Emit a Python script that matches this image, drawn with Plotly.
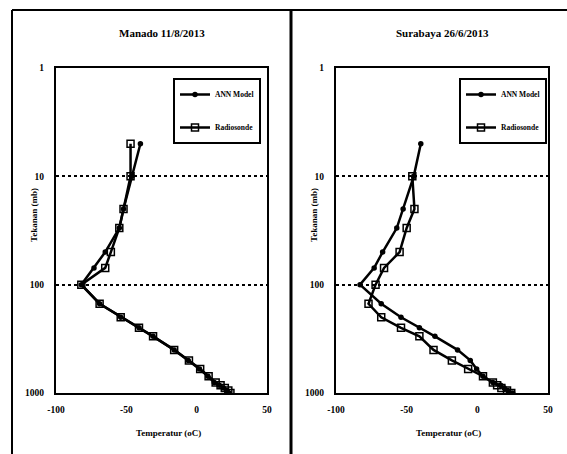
import plotly.graph_objects as go

# ---- data ----
pressure = [1000, 950, 900, 850, 800, 700, 600, 500, 400, 300, 250, 200, 150, 100, 70, 50, 30, 20, 10, 5]

manado_ann = [23, 21.5, 19, 16, 12.5, 8, 2, -6, -16, -31, -41, -54, -69, -82, -73, -65, -55, -52, -46, -40]
manado_rad = [24, 22.5, 20, 17, 13.5, 8.5, 2.5, -5.5, -16, -31, -41, -54, -69, -82, -65, -61, -55, -52, -47, -47]

surabaya_ann = [25, 21.5, 19, 16.5, 11, 4, -0.5, -5, -14, -30, -41, -54, -68, -83, -73, -67, -57, -52.5, -45, -40]
surabaya_rad = [24, 21, 17, 14, 11, 4, -6.5, -18, -31, -41, -54, -68, -77, -72, -66, -55, -50, -44.5, -46, None]

titles = ["Manado 11/8/2013", "Surabaya 26/6/2013"]
x_ticks = [-100, -50, 0, 50]
y_ticks = [1, 10, 100, 1000]
x_title = "Temperatur (oC)"
y_title = "Tekanan (mb)"
series_names = ["ANN Model", "Radiosonde"]

W, H = 567, 454
FONT = "Liberation Serif"

fig = go.Figure()

panels = [
    (manado_ann, manado_rad, "x", "y", "legend"),
    (surabaya_ann, surabaya_rad, "x2", "y2", "legend2"),
]
for ann, rad, xa, ya, lg in panels:
    fig.add_trace(go.Scatter(
        x=ann, y=pressure, xaxis=xa, yaxis=ya, legend=lg, legendgroup=lg + "a",
        name="<b>%s</b>" % series_names[0], mode="lines+markers",
        line=dict(color="black", width=2.5),
        marker=dict(symbol="circle", size=5.5, color="black"),
    ))
    fig.add_trace(go.Scatter(
        x=rad, y=pressure, xaxis=xa, yaxis=ya, legend=lg, legendgroup=lg + "b",
        name="<b>%s</b>" % series_names[1], mode="lines+markers",
        line=dict(color="black", width=2.5),
        marker=dict(symbol="square-open", size=7, color="black", line=dict(width=1.5, color="black")),
    ))

ydom = [1 - 393 / H, 1 - 68 / H]
xdoms = [[56 / W, 267 / W], [336 / W, 548 / W]]

tickfont = dict(family=FONT, size=9.5, color="black")
for i, dom in enumerate(xdoms):
    sfx = "" if i == 0 else str(i + 1)
    fig.update_layout(**{
        "xaxis" + sfx: dict(
            domain=dom, range=[-100, 50], tickvals=x_ticks,
            ticktext=["<b>%d</b>" % v for v in x_ticks], showgrid=False,
            zeroline=False, showline=True, mirror=True, linecolor="black", linewidth=2,
            ticks="", tickfont=tickfont, ticklabelstandoff=7, automargin=False,
            anchor="y" + sfx,
        ),
        "yaxis" + sfx: dict(
            domain=ydom, type="log", range=[3, 0], tickvals=y_ticks,
            ticktext=["<b>%d</b>" % v for v in y_ticks],
            showgrid=True, gridcolor="black", griddash="dot", gridwidth=1.5,
            zeroline=False, showline=True, mirror=True, linecolor="black", linewidth=2,
            ticks="", tickfont=tickfont, ticklabelstandoff=8, automargin=False,
            anchor="x" + sfx,
        ),
    })

legend_style = dict(
    bgcolor="white", bordercolor="black", borderwidth=2,
    font=dict(family=FONT, size=7.5, color="black"),
    xanchor="left", yanchor="top", itemwidth=30, tracegroupgap=14,
)
fig.update_layout(
    legend=dict(x=173 / W, y=1 - 78 / H, **legend_style),
    legend2=dict(x=459 / W, y=1 - 78 / H, **legend_style),
)

annotations = []
for i, dom in enumerate(xdoms):
    cx = (dom[0] + dom[1]) / 2
    annotations.append(dict(
        text="<b>%s</b>" % titles[i], x=cx, y=1 - 33 / H, xref="paper", yref="paper",
        showarrow=False, font=dict(family=FONT, size=11, color="black"),
        xanchor="center", yanchor="middle",
    ))
    annotations.append(dict(
        text="<b>%s</b>" % x_title, x=cx + 7 / W, y=1 - 433 / H, xref="paper", yref="paper",
        showarrow=False, font=dict(family=FONT, size=9, color="black"),
        xanchor="center", yanchor="middle",
    ))
    annotations.append(dict(
        text="<b>%s</b>" % y_title, x=dom[0] - 22 / W, y=1 - 215 / H, xref="paper", yref="paper",
        showarrow=False, font=dict(family=FONT, size=9, color="black"), textangle=-90,
        xanchor="center", yanchor="middle",
    ))

shapes = [
    dict(type="line", xref="paper", yref="paper", x0=12 / W, x1=1, y0=1 - 10 / H, y1=1 - 10 / H,
         line=dict(color="black", width=2)),
    dict(type="line", xref="paper", yref="paper", x0=12 / W, x1=12 / W, y0=0, y1=1 - 10 / H,
         line=dict(color="black", width=2)),
    dict(type="line", xref="paper", yref="paper", x0=291 / W, x1=291 / W, y0=0, y1=1 - 10 / H,
         line=dict(color="black", width=3)),
]

fig.update_layout(
    width=W, height=H, margin=dict(l=0, r=0, t=0, b=0, pad=0, autoexpand=False),
    paper_bgcolor="white", plot_bgcolor="white",
    annotations=annotations, shapes=shapes, showlegend=True,
)

fig.write_html(
    "out.html",
    config={"displayModeBar": False},
    post_script="document.body.style.margin='0px';document.body.style.overflow='hidden';",
)
